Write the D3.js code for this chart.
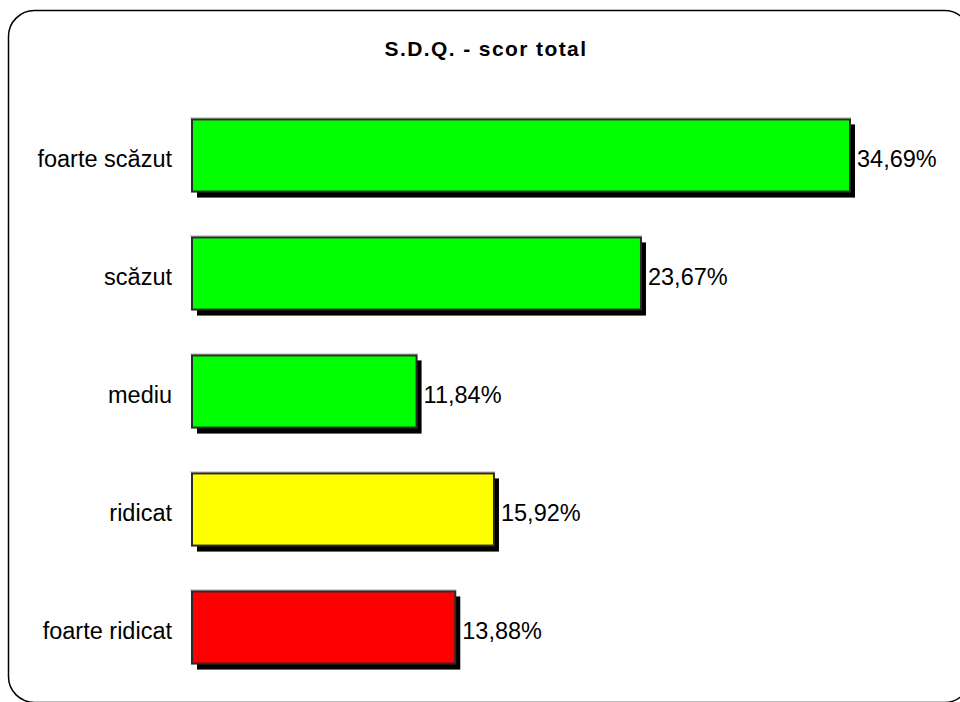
<!DOCTYPE html>
<html>
<head>
<meta charset="utf-8">
<script src="https://cdn.jsdelivr.net/npm/d3@7/dist/d3.min.js"></script>
<style>
  html, body { margin: 0; padding: 0; background: #fff; }
  svg { display: block; }
  text { font-family: "Liberation Sans", Arial, sans-serif; }
</style>
</head>
<body>
<svg id="chart" width="960" height="702"></svg>
<script>
const title = "S.D.Q. - scor total";
const categories = ["foarte scăzut", "scăzut", "mediu", "ridicat", "foarte ridicat"];
const values = [34.69, 23.67, 11.84, 15.92, 13.88];
const colors = ["#00ff00", "#00ff00", "#00ff00", "#ffff00", "#ff0000"];

const svg = d3.select("#chart");

// outer rounded frame
svg.append("rect")
  .attr("x", 8.5).attr("y", 10.5)
  .attr("width", 962).attr("height", 692)
  .attr("rx", 26).attr("ry", 26)
  .attr("fill", "none").attr("stroke", "#000").attr("stroke-width", 1.5);

svg.append("text")
  .attr("x", 486).attr("y", 56)
  .attr("text-anchor", "middle")
  .attr("font-size", 21).attr("font-weight", "bold")
  .attr("letter-spacing", 1.4)
  .text(title);

const x = d3.scaleLinear().domain([0, 34.69]).range([192, 850]);
const y = d3.scaleBand().domain(categories).range([96, 686]).paddingInner(0.38).paddingOuter(0.19);

const data = categories.map((c, i) => ({ c, v: values[i], col: colors[i] }));
const loc = d3.formatLocale({ decimal: ",", thousands: ".", grouping: [3], currency: ["", ""] });
const fmt = loc.format(".2f");

const g = svg.append("g");
// shadows
g.selectAll("rect.shadow").data(data).join("rect")
  .attr("class", "shadow")
  .attr("x", d => x(0) + 5).attr("y", d => y(d.c) + 6)
  .attr("width", d => x(d.v) - x(0)).attr("height", y.bandwidth())
  .attr("fill", "#000");
// top highlight
g.selectAll("line.hl").data(data).join("line")
  .attr("class", "hl")
  .attr("x1", d => x(0) - 2).attr("x2", d => x(d.v) + 1)
  .attr("y1", d => y(d.c) - 0.5).attr("y2", d => y(d.c) - 0.5)
  .attr("stroke", "#b8b8b8").attr("stroke-width", 1);
// bars
g.selectAll("rect.bar").data(data).join("rect")
  .attr("class", "bar")
  .attr("x", d => x(0)).attr("y", d => y(d.c) + 1)
  .attr("width", d => x(d.v) - x(0)).attr("height", y.bandwidth() - 1)
  .attr("fill", d => d.col)
  .attr("stroke", "#2a2a2a").attr("stroke-width", 2);

// category labels
g.selectAll("text.cat").data(data).join("text")
  .attr("class", "cat")
  .attr("x", 172).attr("y", d => y(d.c) + y.bandwidth() / 2 + 6)
  .attr("text-anchor", "end").attr("dominant-baseline", "middle")
  .attr("font-size", 23.5).attr("fill", "#000")
  .text(d => d.c);

// value labels
g.selectAll("text.val").data(data).join("text")
  .attr("class", "val")
  .attr("x", d => x(d.v) + 7).attr("y", d => y(d.c) + y.bandwidth() / 2 + 6)
  .attr("dominant-baseline", "middle")
  .attr("font-size", 23.5).attr("fill", "#000")
  .text(d => fmt(d.v) + "%");
</script>
</body>
</html>
